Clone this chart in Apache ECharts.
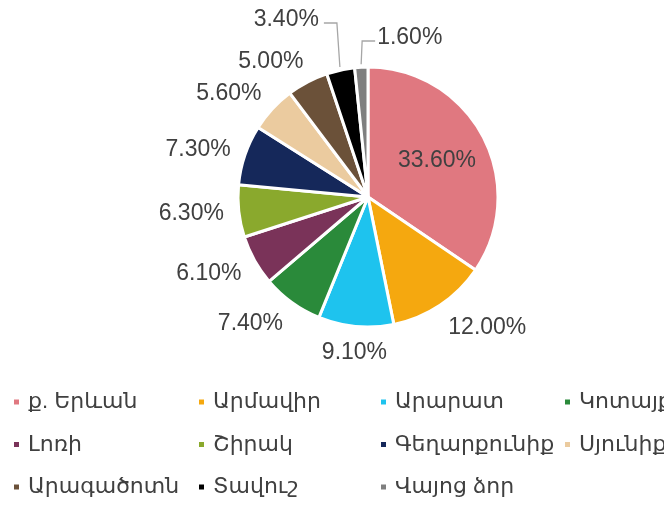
<!DOCTYPE html>
<html>
<head>
<meta charset="utf-8">
<script src="https://cdn.jsdelivr.net/npm/echarts@6/dist/echarts.min.js"></script>
<style>
  html, body { margin: 0; padding: 0; background: #ffffff; }
  #chart { width: 664px; height: 505px; }
</style>
</head>
<body>
<div id="chart"></div>
<script>
// Regions (marz) and their shares, in percent
const regions = ['ք. Երևան', 'Արմավիր', 'Արարատ', 'Կոտայք', 'Լոռի', 'Շիրակ', 'Գեղարքունիք', 'Սյունիք', 'Արագածոտն', 'Տավուշ', 'Վայոց ձոր'];
const shares = [33.6, 12.0, 9.1, 7.4, 6.1, 6.3, 7.3, 5.6, 5.0, 3.4, 1.6];
const colors = ['#E07880', '#F5A80F', '#1EC3EE', '#2A8A3A', '#7A3359', '#8AA92D', '#15285A', '#EBCB9F', '#6B5139', '#000000', '#7F7F7F'];

// Legend columns (items listed top to bottom)
const legendColumns = [
  ['ք. Երևան', 'Լոռի', 'Արագածոտն'],
  ['Արմավիր', 'Շիրակ', 'Տավուշ'],
  ['Արարատ', 'Գեղարքունիք', 'Վայոց ձոր'],
  ['Կոտայք', 'Սյունիք']
];

const FONT = "'Liberation Sans', 'DejaVu Sans', Arial, sans-serif";
const TEXT = '#404040';
const CX = 368, CY = 197, RAD = 130;

// mid angle of each slice, clockwise from 12 o'clock
const total = shares.reduce((s, v) => s + v, 0);
const midAngles = [];
let acc = 0;
shares.forEach(v => { midAngles.push((acc + v / 2) / total * Math.PI * 2); acc += v; });

const chart = echarts.init(document.getElementById('chart'), null, { renderer: 'canvas' });

const legendLefts = [12, 197, 379, 563];
const legends = legendColumns.map((col, k) => ({
  orient: 'vertical',
  left: legendLefts[k],
  top: 390,
  icon: 'rect',
  itemWidth: 7,
  itemHeight: 7,
  itemGap: 18.5,
  padding: 0,
  selectedMode: false,
  data: col,
  textStyle: { fontFamily: FONT, fontSize: 22, color: TEXT, lineHeight: 24, padding: [0, 0, 0, 3] }
}));

function layoutLabel(p) {
  const i = p.dataIndex;
  const a = midAngles[i];
  const ux = Math.sin(a), uy = -Math.cos(a);
  const w = p.labelRect.width, h = p.labelRect.height;
  if (i === 0) {
    // largest slice: label inside
    return { x: CX + ux * RAD * 0.6, y: CY + uy * RAD * 0.6, align: 'center', verticalAlign: 'middle' };
  }
  if (a > Math.PI * 2 * 0.94) {
    // thin slices at the top: lift label above the pie with a leader line
    const ex = CX + ux * (RAD + 3), ey = CY + uy * (RAD + 3);
    const goRight = i === shares.length - 1;
    const ly = goRight ? CY - RAD - 26 : CY - RAD - 44;
    const bx = goRight ? ex + 1 : ex - 3;
    const tx = goRight ? bx + 13 : bx - 13;
    return {
      x: goRight ? tx + 2 : tx - 5,
      y: ly - 3,
      align: goRight ? 'left' : 'right',
      verticalAlign: 'middle',
      labelLinePoints: [[ex, ey], [bx, ly], [tx, ly]]
    };
  }
  const R = RAD + 15;
  const s = Math.sign(ux) * Math.min(1, Math.max(0, Math.abs(ux) - 0.1) / 0.4);
  return {
    x: CX + ux * R + s * w / 2,
    y: CY + uy * R + uy * h / 2 + (uy < 0 ? 3 : 0),
    align: 'center',
    verticalAlign: 'middle'
  };
}

chart.setOption({
  backgroundColor: '#ffffff',
  animation: false,
  legend: legends,
  series: [{
    type: 'pie',
    center: [CX, CY],
    radius: [0, RAD],
    startAngle: 90,
    clockwise: true,
    avoidLabelOverlap: false,
    itemStyle: { borderColor: '#ffffff', borderWidth: 3 },
    label: {
      show: true,
      position: 'outside',
      fontFamily: FONT,
      fontSize: 23,
      color: TEXT,
      formatter: p => p.value.toFixed(2) + '%'
    },
    labelLine: { show: false, lineStyle: { color: '#A6A6A6', width: 1.3 } },
    labelLayout: layoutLabel,
    emphasis: { disabled: true },
    data: regions.map((name, i) => ({
      name: name,
      value: shares[i],
      itemStyle: { color: colors[i] },
      labelLine: { show: i >= 9 }
    }))
  }]
});
</script>
</body>
</html>
